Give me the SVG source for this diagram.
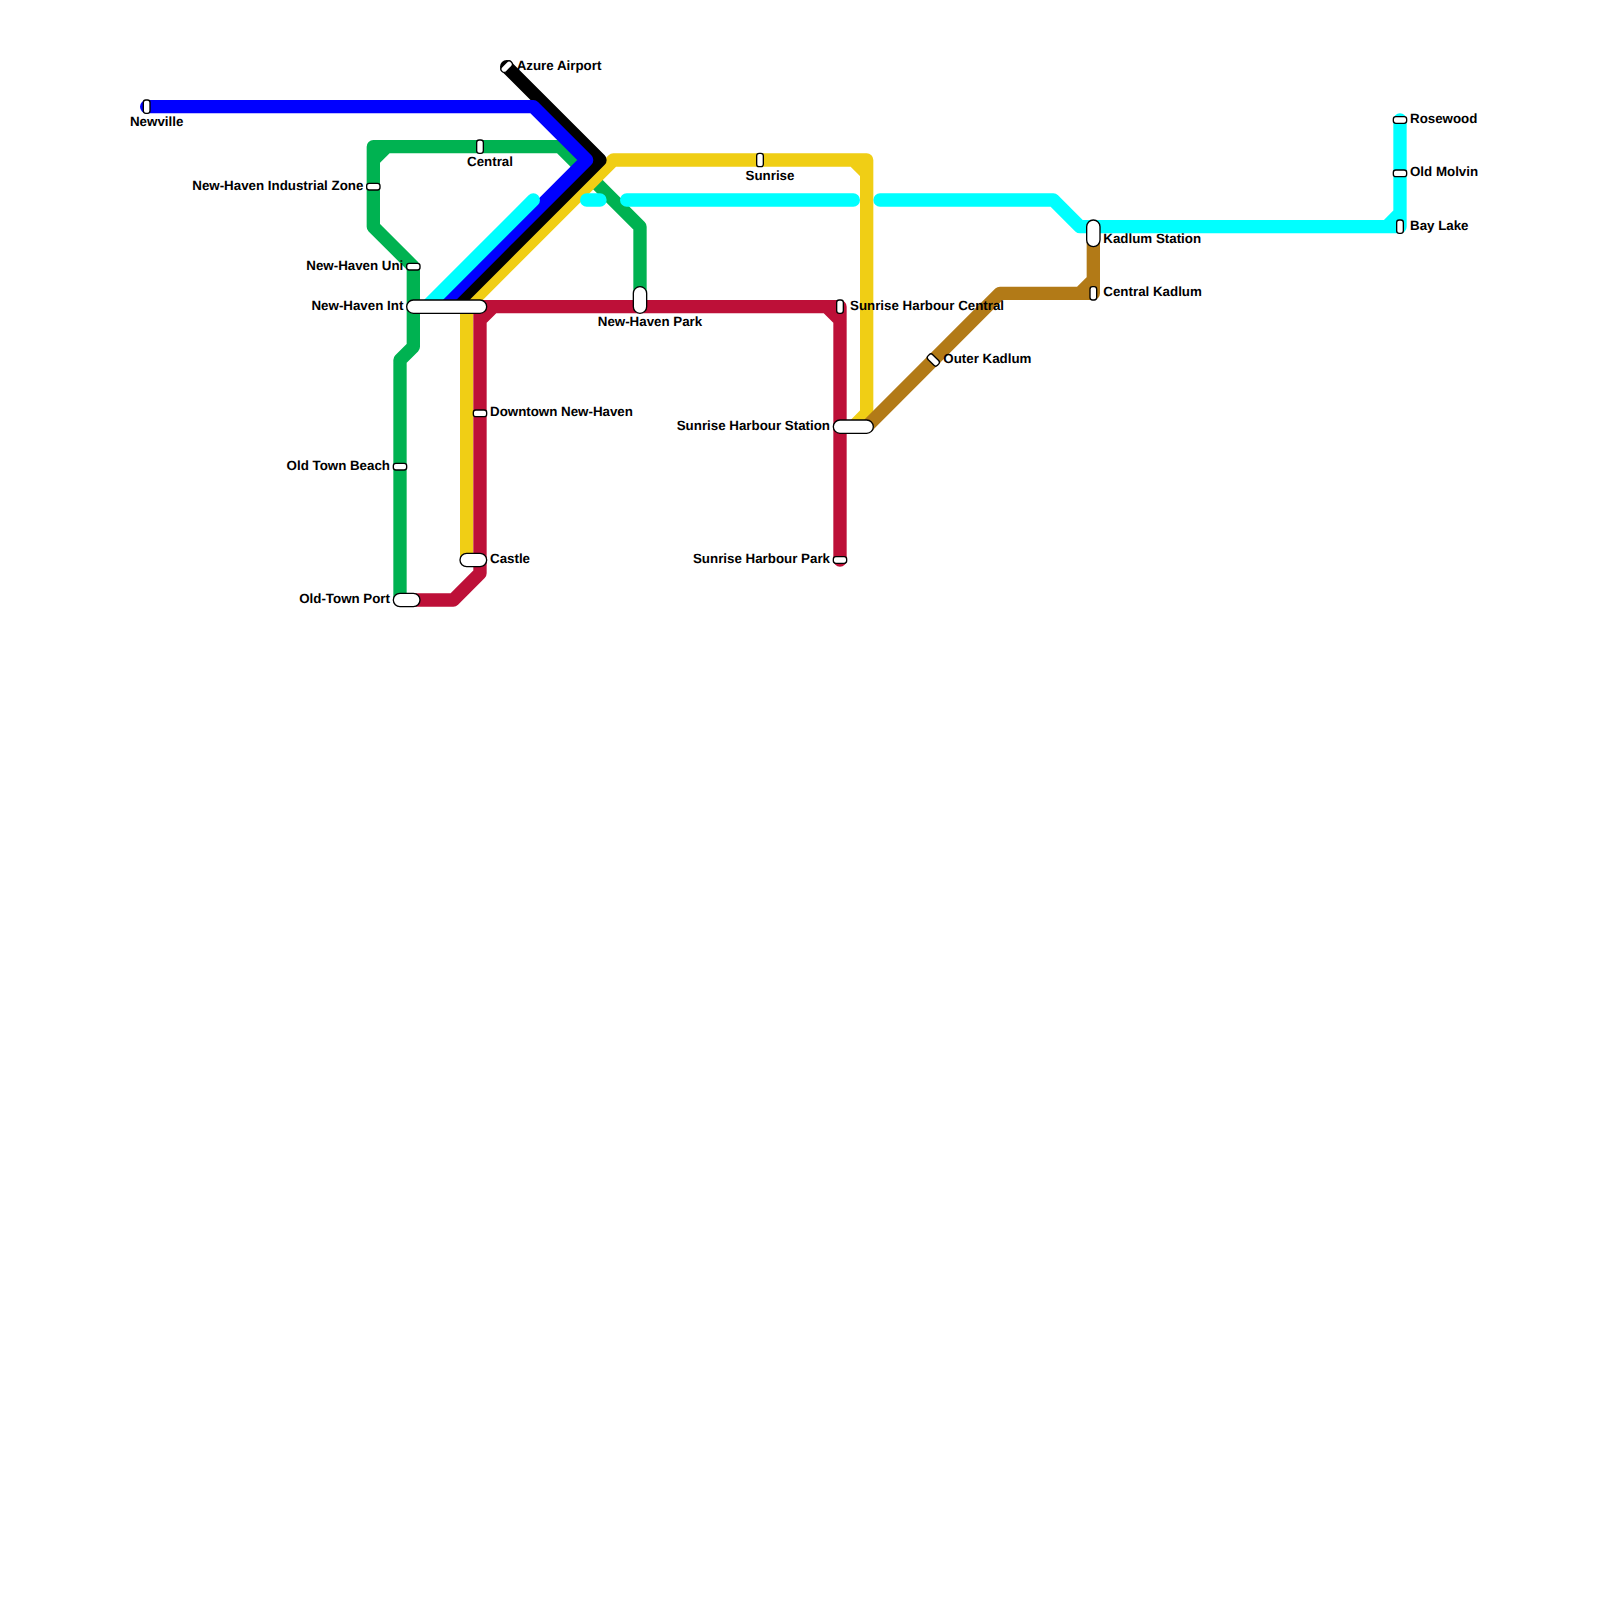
<svg xmlns="http://www.w3.org/2000/svg" width="1600" height="1600" viewBox="0 0 1600 1600">
<style>
.l{fill:none;stroke-width:13.33;stroke-linecap:round;stroke-linejoin:round}
.s{fill:#fff;stroke:#000;stroke-width:1.33}
text{font-family:"Liberation Sans",Arial,sans-serif;font-size:13.33px;font-weight:bold;fill:#000;text-rendering:geometricPrecision}
.e{text-anchor:end}.m{text-anchor:middle}
</style>
<rect width="1600" height="1600" fill="#fff"/>
<g id="connectors">
<path class="l" stroke="#00b251" d="M373.33 160L386.67 146.67M640 300V226.67L560 146.67H373.33V226.67L413.33 266.67V346.67L400 360V600"/>
<path class="l" stroke="#f0ce15" d="M466.67 560V306.67L613.33 160H866.67V413.33L853.33 426.67M853.33 160L866.67 173.33"/>
<path class="l" stroke="#bd1038" d="M400 600H453.33L480 573.33V306.67M493.33 306.67L480 320M466.67 306.67H840V560M826.67 306.67L840 320"/>
<path class="l" stroke="#000" d="M506.67 66.67L600 160L453.33 306.67"/>
<path class="l" stroke="#0000ff" d="M146.67 106.67H533.33L586.67 160L440 306.67"/>
<path class="l" stroke="#b27a17" d="M866.67 426.67L1000 293.33H1093.33V233.33M1080 293.33L1093.33 280"/>
<path class="l" stroke="#00ffff" d="M426.67 306.67L533.33 200M586.67 200H600M626.67 200H853.33M880 200H1053.33L1080 226.67H1400V120M1386.67 226.67L1400 213.33"/>
</g>
<g id="azure-airport"><rect class="s" x="500" y="63.33" width="13.33" height="6.67" rx="3.33" transform="rotate(-45 506.67 66.67)"/><text x="516.67" y="69.5">Azure Airport</text></g>
<g id="newville"><rect class="s" x="143.33" y="100" width="6.67" height="13.33" rx="2.5"/><text class="m" x="156.67" y="125.8">Newville</text></g>
<g id="central"><rect class="s" x="476.67" y="140" width="6.67" height="13.33" rx="2.5"/><text class="m" x="490" y="165.8">Central</text></g>
<g id="new-haven-industrial-zone"><rect class="s" x="366.67" y="183.33" width="13.33" height="6.67" rx="2.5"/><text class="e" x="363.33" y="189.5">New-Haven Industrial Zone</text></g>
<g id="new-haven-uni"><rect class="s" x="406.67" y="263.33" width="13.33" height="6.67" rx="2.5"/><text class="e" x="403.33" y="269.5">New-Haven Uni</text></g>
<g id="new-haven-int"><rect class="s" x="406.67" y="300" width="80" height="13.33" rx="6.67"/><text class="e" x="403.33" y="309.5">New-Haven Int</text></g>
<g id="old-town-beach"><rect class="s" x="393.33" y="463.33" width="13.33" height="6.67" rx="2.5"/><text class="e" x="390" y="469.5">Old Town Beach</text></g>
<g id="old-town-port"><rect class="s" x="393.33" y="593.33" width="26.67" height="13.33" rx="6.67"/><text class="e" x="390" y="602.8">Old-Town Port</text></g>
<g id="castle"><rect class="s" x="460" y="553.33" width="26.67" height="13.33" rx="6.67"/><text x="490" y="562.8">Castle</text></g>
<g id="downtown-new-haven"><rect class="s" x="473.33" y="410" width="13.33" height="6.67" rx="2.5"/><text x="490" y="416.2">Downtown New-Haven</text></g>
<g id="new-haven-park"><rect class="s" x="633.33" y="286.67" width="13.33" height="26.67" rx="6.67"/><text class="m" x="650" y="325.8">New-Haven Park</text></g>
<g id="sunrise"><rect class="s" x="756.67" y="153.33" width="6.67" height="13.33" rx="2.5"/><text class="m" x="770" y="179.5">Sunrise</text></g>
<g id="sunrise-harbour-central"><rect class="s" x="836.67" y="300" width="6.67" height="13.33" rx="2.5"/><text x="850" y="309.5">Sunrise Harbour Central</text></g>
<g id="sunrise-harbour-station"><rect class="s" x="833.33" y="420" width="40" height="13.33" rx="6.67"/><text class="e" x="830" y="429.5">Sunrise Harbour Station</text></g>
<g id="sunrise-harbour-park"><rect class="s" x="833.33" y="556.67" width="13.33" height="6.67" rx="2.5"/><text class="e" x="830" y="562.8">Sunrise Harbour Park</text></g>
<g id="outer-kadlum"><rect class="s" x="926.67" y="356.67" width="13.33" height="6.67" rx="2.5" transform="rotate(45 933.33 360)"/><text x="943.33" y="362.8">Outer Kadlum</text></g>
<g id="kadlum-station"><rect class="s" x="1086.67" y="220" width="13.33" height="26.67" rx="6.67"/><text x="1103.33" y="242.8">Kadlum Station</text></g>
<g id="central-kadlum"><rect class="s" x="1090" y="286.67" width="6.67" height="13.33" rx="2.5"/><text x="1103.33" y="296.2">Central Kadlum</text></g>
<g id="rosewood"><rect class="s" x="1393.33" y="116.67" width="13.33" height="6.67" rx="2.5"/><text x="1410" y="122.8">Rosewood</text></g>
<g id="old-molvin"><rect class="s" x="1393.33" y="170" width="13.33" height="6.67" rx="2.5"/><text x="1410" y="176">Old Molvin</text></g>
<g id="bay-lake"><rect class="s" x="1396.67" y="220" width="6.67" height="13.33" rx="2.5"/><text x="1410" y="229.5">Bay Lake</text></g>
</svg>
